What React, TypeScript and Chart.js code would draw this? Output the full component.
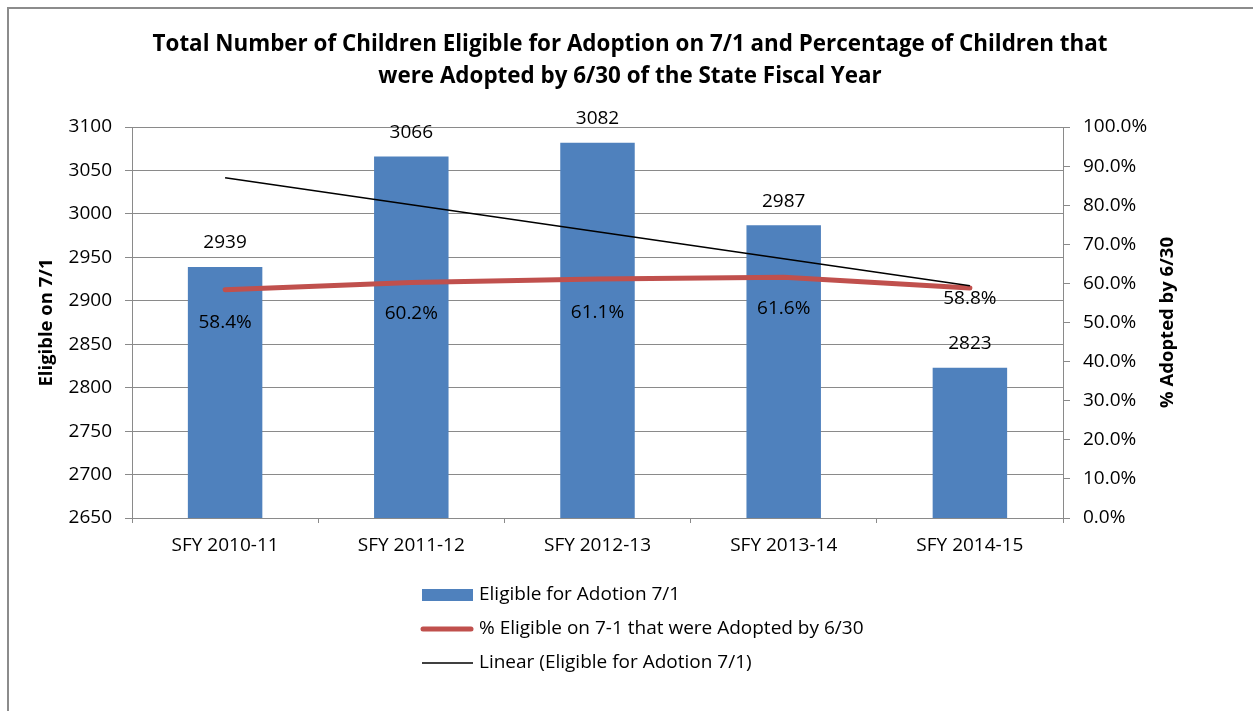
import React, { useEffect, useRef } from "react";
import { Chart, registerables } from "chart.js";

Chart.register(...registerables);

const categories = ["SFY 2010-11", "SFY 2011-12", "SFY 2012-13", "SFY 2013-14", "SFY 2014-15"];
const eligible = [2939, 3066, 3082, 2987, 2823];
const adoptedPct = [58.4, 60.2, 61.1, 61.6, 58.8];
const trendEligible = [3041.6, 3010.5, 2979.4, 2948.3, 2917.2];
const titleLines = [
  "Total Number of Children Eligible for Adoption on 7/1 and Percentage of Children that",
  "were Adopted by 6/30 of the State Fiscal Year",
];
const legendLabels = [
  "Eligible for Adotion 7/1",
  "% Eligible on 7-1 that were Adopted by 6/30",
  "Linear (Eligible for Adotion 7/1)",
];
const leftAxisTitle = "Eligible on 7/1";
const rightAxisTitle = "% Adopted by 6/30";

const FONT = "'Open Sans', 'Liberation Sans', sans-serif";
const BLUE = "#4F81BD";
const RED = "#C0504D";
const GRID = "#8a8a8a";
const pctLabelOffsets = [33, 31, 33, 31, 11];

const textPlugin = {
  id: "textPlugin",
  beforeDraw(chart: any) {
    const ctx = chart.ctx;
    ctx.save();
    ctx.fillStyle = "#fff";
    ctx.fillRect(0, 0, chart.width, chart.height);
    ctx.strokeStyle = "#8c8c8c";
    ctx.lineWidth = 2;
    ctx.strokeRect(8, 8, chart.width + 20, chart.height + 20);
    ctx.restore();
  },
  afterDraw(chart: any) {
    const ctx = chart.ctx;
    const area = chart.chartArea;
    ctx.save();
    ctx.fillStyle = "#000";
    ctx.textAlign = "center";
    ctx.textBaseline = "middle";
    // title
    ctx.font = `bold 22.4px ${FONT}`;
    ctx.fillText(titleLines[0], 630, 45);
    ctx.fillText(titleLines[1], 630, 77);
    // axis titles
    const cy = (area.top + area.bottom) / 2;
    ctx.font = `bold 18.5px ${FONT}`;
    ctx.save();
    ctx.translate(47, cy);
    ctx.rotate(-Math.PI / 2);
    ctx.fillText(leftAxisTitle, 0, 0);
    ctx.restore();
    ctx.save();
    ctx.translate(1168, cy);
    ctx.rotate(-Math.PI / 2);
    ctx.fillText(rightAxisTitle, 0, 0);
    ctx.restore();
    // data labels
    ctx.font = `19px ${FONT}`;
    const barMeta = chart.getDatasetMeta(2);
    barMeta.data.forEach((el: any, i: number) => {
      ctx.fillText(String(eligible[i]), el.x, el.y - 24);
    });
    const pctMeta = chart.getDatasetMeta(0);
    pctMeta.data.forEach((el: any, i: number) => {
      ctx.fillText(adoptedPct[i].toFixed(1) + "%", el.x, el.y + pctLabelOffsets[i]);
    });
    // legend
    ctx.textAlign = "left";
    ctx.fillStyle = BLUE;
    ctx.fillRect(422, 589, 51, 12);
    ctx.lineCap = "round";
    ctx.strokeStyle = RED;
    ctx.lineWidth = 5;
    ctx.beginPath();
    ctx.moveTo(423, 629);
    ctx.lineTo(471, 629);
    ctx.stroke();
    ctx.lineCap = "butt";
    ctx.strokeStyle = "#000";
    ctx.lineWidth = 1.5;
    ctx.beginPath();
    ctx.moveTo(422, 663);
    ctx.lineTo(473, 663);
    ctx.stroke();
    ctx.fillStyle = "#000";
    ctx.font = `19px ${FONT}`;
    ctx.fillText(legendLabels[0], 479, 595);
    ctx.fillText(legendLabels[1], 479, 629);
    ctx.fillText(legendLabels[2], 479, 663);
    ctx.restore();
  },
};

export default function App() {
  const ref = useRef<HTMLCanvasElement>(null);
  useEffect(() => {
    if (!ref.current) return;
    const chart = new Chart(ref.current, {
      type: "bar",
      data: {
        labels: categories,
        datasets: [
          {
            type: "line",
            label: legendLabels[1],
            data: adoptedPct,
            yAxisID: "y1",
            borderColor: RED,
            borderWidth: 5,
            borderCapStyle: "round",
            borderJoinStyle: "round",
            pointRadius: 0,
            tension: 0,
            order: 1,
          } as any,
          {
            type: "line",
            label: legendLabels[2],
            data: trendEligible,
            yAxisID: "y",
            borderColor: "#000",
            borderWidth: 1.5,
            pointRadius: 0,
            tension: 0,
            order: 0,
          } as any,
          {
            type: "bar",
            label: legendLabels[0],
            data: eligible,
            yAxisID: "y",
            backgroundColor: BLUE,
            borderWidth: 0,
            barPercentage: 0.4,
            categoryPercentage: 1,
            order: 3,
          } as any,
        ],
      },
      options: {
        responsive: false,
        animation: false,
        devicePixelRatio: 1,
        layout: { padding: { top: 127, left: 0, right: 0, bottom: 0 } },
        plugins: {
          legend: { display: false },
          title: { display: false },
          tooltip: { enabled: false },
        },
        scales: {
          x: {
            type: "category",
            offset: true,
            grid: { offset: true, drawOnChartArea: false, tickLength: 5, color: GRID },
            border: { color: GRID, width: 1 },
            ticks: { color: "#000", font: { family: FONT, size: 19 }, padding: 11, maxRotation: 0 },
            afterFit(scale: any) {
              scale.height = 193;
            },
          },
          y: {
            position: "left",
            min: 2650,
            max: 3100,
            grid: { color: GRID, tickLength: 7 },
            border: { color: GRID, width: 1 },
            ticks: {
              stepSize: 50,
              color: "#000",
              font: { family: FONT, size: 19 },
              padding: 13,
              callback: (v: any) => String(v),
            },
            afterFit(scale: any) {
              scale.width = 132;
            },
          },
          y1: {
            position: "right",
            min: 0,
            max: 100,
            grid: { drawOnChartArea: false, color: GRID, tickLength: 7 },
            border: { color: GRID, width: 1 },
            ticks: {
              stepSize: 10,
              color: "#000",
              font: { family: FONT, size: 19 },
              padding: 13,
              callback: (v: any) => Number(v).toFixed(1) + "%",
            },
            afterFit(scale: any) {
              scale.width = 190;
            },
          },
        },
      },
      plugins: [textPlugin],
    } as any);
    return () => chart.destroy();
  }, []);
  return (
    <div style={{ position: "absolute", left: 0, top: 0, width: 1253, height: 711 }}>
      <canvas ref={ref} width={1253} height={711} style={{ display: "block" }} />
    </div>
  );
}
